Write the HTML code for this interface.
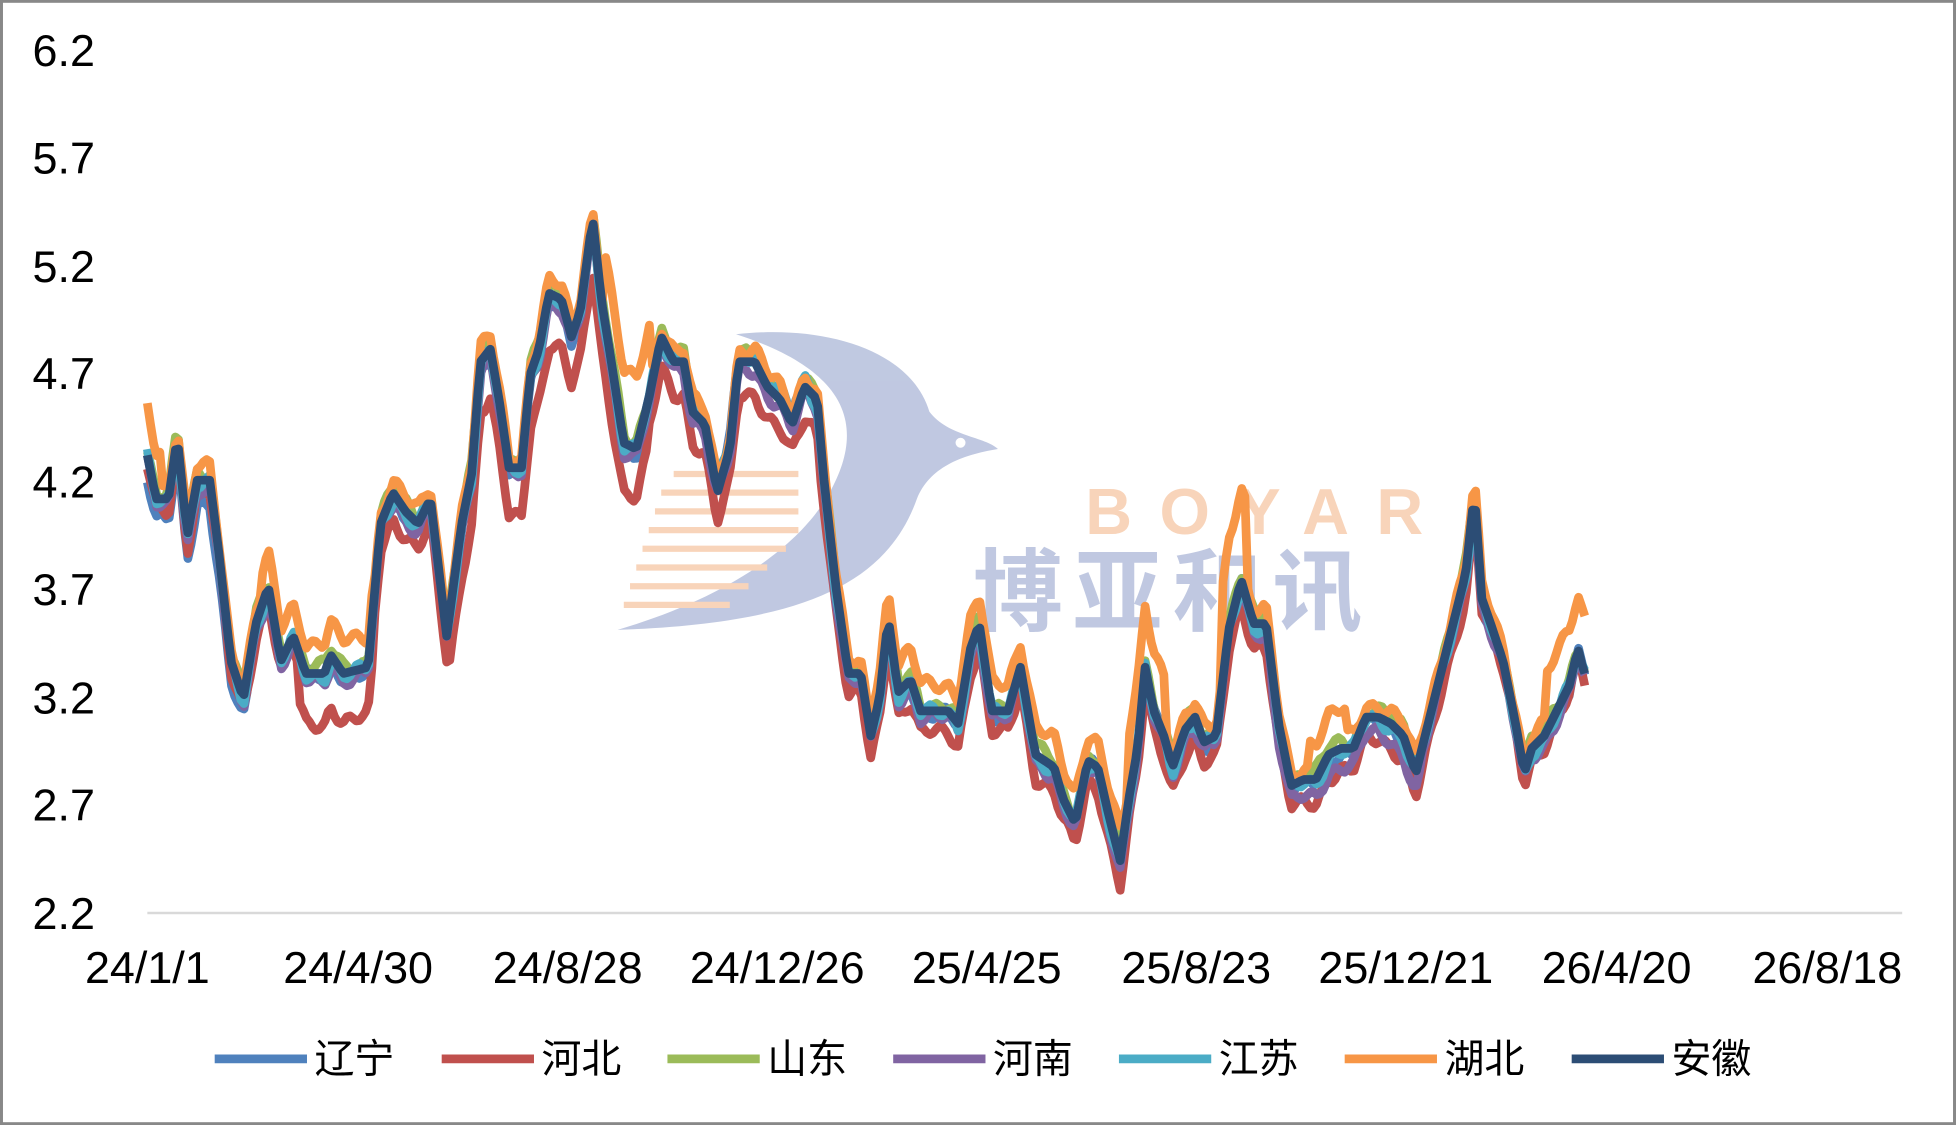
<!DOCTYPE html>
<html><head><meta charset="utf-8">
<style>
html,body{margin:0;padding:0;background:#fff}
svg{display:block}
text{font-family:"Liberation Sans","Noto Sans CJK SC",sans-serif;fill:#000}
</style></head>
<body>
<svg id="s" width="1956" height="1125" viewBox="0 0 1568 902" xmlns="http://www.w3.org/2000/svg">
<rect x="1" y="1" width="1566" height="900" fill="#fff" stroke="#888" stroke-width="2.5"/>
<g opacity="0.55">
<path d="M590 268 C660 260 730 280 745 330 C760 350 790 350 800 360 C770 365 745 375 735 400 C710 470 640 500 495 505 C580 480 640 440 665 395 C690 350 690 300 590 268 Z" fill="#8d9cc9"/>
<circle cx="770" cy="355" r="4" fill="#fff"/>
<g stroke="#f4b183" stroke-width="5">
<line x1="540" y1="380" x2="640" y2="380"/><line x1="530" y1="395" x2="640" y2="395"/><line x1="525" y1="410" x2="640" y2="410"/><line x1="520" y1="425" x2="640" y2="425"/><line x1="515" y1="440" x2="630" y2="440"/><line x1="510" y1="455" x2="615" y2="455"/><line x1="505" y1="470" x2="600" y2="470"/><line x1="500" y1="485" x2="585" y2="485"/>
</g>
<text x="870" y="428" font-size="52" font-weight="bold" style="fill:#f4b183;letter-spacing:22px">BOYAR</text>
<text x="780" y="500" font-size="72" font-weight="bold" style="fill:#8d9cc9;letter-spacing:8px">博亚和讯</text>
</g>
<g font-size="36">
<text x="76" y="53" text-anchor="end">6.2</text>
<text x="76" y="139" text-anchor="end">5.7</text>
<text x="76" y="226" text-anchor="end">5.2</text>
<text x="76" y="312" text-anchor="end">4.7</text>
<text x="76" y="399" text-anchor="end">4.2</text>
<text x="76" y="485" text-anchor="end">3.7</text>
<text x="76" y="572" text-anchor="end">3.2</text>
<text x="76" y="658" text-anchor="end">2.7</text>
<text x="76" y="745" text-anchor="end">2.2</text>
</g>
<line x1="118" y1="732" x2="1525" y2="732" stroke="#d9d9d9" stroke-width="2"/>
<g font-size="36" text-anchor="middle">
<text x="118" y="788">24/1/1</text><text x="287" y="788">24/4/30</text><text x="455" y="788">24/8/28</text><text x="623" y="788">24/12/26</text><text x="791" y="788">25/4/25</text><text x="959" y="788">25/8/23</text><text x="1127" y="788">25/12/21</text><text x="1296" y="788">26/4/20</text><text x="1465" y="788">26/8/18</text>
</g>
<g id="lines" fill="none" stroke-width="7" stroke-linejoin="round"></g>
<g font-size="32" stroke-width="7">
<line x1="172" y1="849" x2="246" y2="849" stroke="#4f81bd"/><text x="252" y="860">辽宁</text>
<line x1="354" y1="849" x2="428" y2="849" stroke="#c0504d"/><text x="434" y="860">河北</text>
<line x1="535" y1="849" x2="609" y2="849" stroke="#9bbb59"/><text x="615" y="860">山东</text>
<line x1="716" y1="849" x2="790" y2="849" stroke="#8064a2"/><text x="796" y="860">河南</text>
<line x1="897" y1="849" x2="971" y2="849" stroke="#4bacc6"/><text x="977" y="860">江苏</text>
<line x1="1078" y1="849" x2="1152" y2="849" stroke="#f79646"/><text x="1158" y="860">湖北</text>
<line x1="1260" y1="849" x2="1334" y2="849" stroke="#2c4d75"/><text x="1340" y="860">安徽</text>
</g>
</svg>
<script>
var P=[[118,365],[125,400],[135,400],[142,350],[150,430],[158,385],[168,385],[175,440],[185,530],[195,560],[205,500],[215,470],[225,530],[235,510],[245,540],[260,540],[265,525],[275,540],[295,535],[305,420],[315,395],[325,410],[335,420],[345,400],[358,510],[370,420],[378,380],[385,290],[393,280],[400,320],[408,375],[418,375],[425,300],[432,280],[440,235],[450,240],[458,270],[465,250],[475,175],[482,240],[490,290],[500,355],[510,360],[520,320],[530,270],[540,290],[548,290],[555,330],[565,340],[575,395],[585,360],[592,290],[605,290],[615,310],[625,320],[635,340],[645,310],[655,320],[660,380],[670,470],[680,540],[690,540],[698,590],[705,560],[712,495],[720,555],[730,545],[738,570],[750,570],[760,570],[768,580],[778,520],[785,500],[795,570],[808,570],[818,535],[830,605],[845,615],[852,640],[862,660],[872,610],[880,615],[888,650],[898,690],[905,640],[912,600],[918,535],[925,570],[933,590],[940,615],[950,585],[958,575],[965,595],[975,590],[985,505],[995,465],[1005,500],[1015,500],[1025,580],[1035,630],[1045,625],[1055,625],[1065,605],[1075,600],[1085,600],[1095,575],[1105,575],[1115,580],[1125,590],[1135,620],[1145,580],[1155,540],[1165,500],[1175,460],[1182,395],[1188,480],[1195,500],[1205,530],[1215,580],[1222,620],[1228,600],[1238,590],[1248,570],[1258,550],[1265,520],[1270,540]];
function interp(x){for(var i=1;i<P.length;i++){if(x<=P[i][0]){var a=P[i-1],b=P[i];return a[1]+(b[1]-a[1])*(x-a[0])/(b[0]-a[0]);}}return P[P.length-1][1];}
var S=[
["#4f81bd",function(x){return 3+(x<200?15:0)+(x>540&&x<650?-8:0);},1.3],
["#c0504d",function(x){return (x<240?10:x<300?40:x<360?20:x<520?40:x<660?25:x<1180?18:8);},2.1],
["#9bbb59",function(x){return -5;},3.7],
["#8064a2",function(x){return 6+(x>1020&&x<1140?8:0);},4.9],
["#4bacc6",function(x){return 2+(x>540&&x<650?-8:0);},5.3],
["#f79646",function(x){var o=-10;if(x<130)o=-40;if(x>485&&x<522)o=-55;if(x>700&&x<900)o=-22;if(x>905&&x<935)o=-50;if(x>980&&x<1000)o=-75;if(x>1050&&x<1080)o=-30;if(x>1240)o=-45;if(x>210&&x<300)o=-25;return o;},6.1],
["#2c4d75",function(x){return 0;},0]
];
var g=document.getElementById('lines'),out='';
S.forEach(function(s){var d='';for(var x=118;x<=1271;x+=2.5){var n=s[2]?(Math.sin(x*0.37+s[2])*4+Math.sin(x*0.11+s[2]*2)*3):0;var y=interp(x)+s[1](x)+n;if(y>735)y=735;d+=(d?'L':'M')+x.toFixed(1)+' '+y.toFixed(1);}out+='<path d="'+d+'" stroke="'+s[0]+'"/>';});
g.innerHTML=out;
</script>
</body></html>
